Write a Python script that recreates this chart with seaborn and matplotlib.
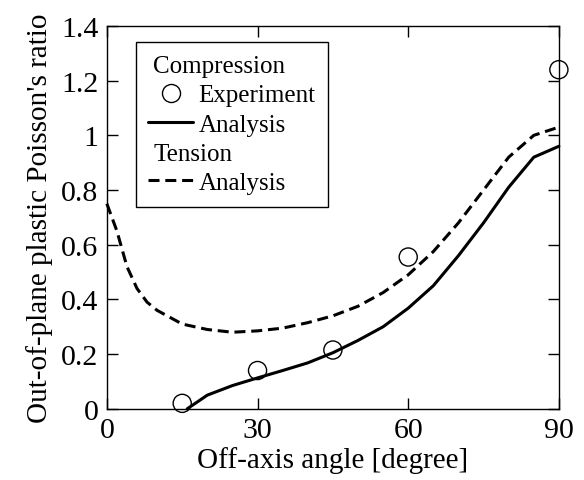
import matplotlib
matplotlib.use("Agg")
import matplotlib.pyplot as plt
from matplotlib.lines import Line2D
import seaborn as sns
import pandas as pd

# Experimental data (compression)
exp_angle = [15, 30, 45, 60, 90]
exp_ratio = [0.02, 0.14, 0.215, 0.555, 1.24]

# Analysis (compression)
comp_angle = [16, 20, 25, 30, 35, 40, 45, 50, 55, 60, 65, 70, 75, 80, 85, 90]
comp_ratio = [0.0, 0.05, 0.085, 0.113, 0.14, 0.168, 0.205, 0.25, 0.30, 0.368,
              0.45, 0.56, 0.68, 0.81, 0.92, 0.96]

# Analysis (tension)
ten_angle = [0, 2, 4, 6, 8, 10, 15, 20, 25, 30, 35, 40, 45, 50, 55, 60, 65, 70, 75, 80, 85, 90]
ten_ratio = [0.75, 0.65, 0.52, 0.44, 0.39, 0.36, 0.31, 0.29, 0.28, 0.285, 0.295, 0.315,
             0.34, 0.375, 0.425, 0.49, 0.575, 0.68, 0.80, 0.92, 1.0, 1.03]

x_ticks = [0, 30, 60, 90]
y_ticks = [0, 0.2, 0.4, 0.6, 0.8, 1.0, 1.2, 1.4]
y_tick_labels = ["0", "0.2", "0.4", "0.6", "0.8", "1", "1.2", "1.4"]

sns.set_style("ticks")
plt.rcParams['font.family'] = ['Liberation Serif', 'DejaVu Serif']
plt.rcParams['text.color'] = 'black'
plt.rcParams['axes.labelcolor'] = 'black'
plt.rcParams['xtick.color'] = 'black'
plt.rcParams['ytick.color'] = 'black'

DASH = (0, (3.6, 1.9))

fig = plt.figure(figsize=(5.84, 4.81), dpi=100)
ax = fig.add_axes([0.183, 0.148, 0.774, 0.796])

df_comp = pd.DataFrame({"angle": comp_angle, "ratio": comp_ratio})
df_ten = pd.DataFrame({"angle": ten_angle, "ratio": ten_ratio})
df_exp = pd.DataFrame({"angle": exp_angle, "ratio": exp_ratio})

sns.lineplot(data=df_ten, x="angle", y="ratio", ax=ax, color="black", linewidth=2.2,
             clip_on=False, zorder=3)
ax.lines[-1].set_linestyle(DASH)
sns.lineplot(data=df_comp, x="angle", y="ratio", ax=ax, color="black", linewidth=2.2,
             clip_on=False, zorder=3)
sns.scatterplot(data=df_exp, x="angle", y="ratio", ax=ax, marker="o", s=170,
                facecolor="none", edgecolor="black", linewidth=1.0, clip_on=False, zorder=4)

ax.set_xlim(0, 90)
ax.set_ylim(0, 1.4)
ax.set_xticks(x_ticks)
ax.set_xticklabels([str(t) for t in x_ticks])
ax.set_yticks(y_ticks)
ax.set_yticklabels(y_tick_labels)
ax.tick_params(direction="in", length=8, width=1, top=True, right=True,
               labelsize=21.5, pad=6, colors="black", labelcolor="black")
for s in ax.spines.values():
    s.set_linewidth(1.0)
    s.set_color("black")
    s.set_zorder(5)

ax.set_xlabel("Off-axis angle [degree]", fontsize=21, labelpad=2, color="black")
ax.set_ylabel("Out-of-plane plastic Poisson's ratio", fontsize=21, labelpad=6, color="black")

headers = ["Compression", "Tension"]
handles = [
    Line2D([], [], linestyle="none"),
    Line2D([], [], linestyle="none", marker="o", markersize=13, markerfacecolor="none",
           markeredgecolor="black", markeredgewidth=1.0),
    Line2D([], [], color="black", linewidth=2.2),
    Line2D([], [], linestyle="none"),
    Line2D([], [], color="black", linewidth=2.2, linestyle=DASH),
]
labels = ["Compression", "Experiment", "Analysis", "Tension", "Analysis"]
leg = ax.legend(handles, labels, loc="upper left", bbox_to_anchor=(0.064, 0.958),
                borderaxespad=0, fontsize=18, frameon=True, fancybox=False,
                edgecolor="black", framealpha=1, handlelength=1.8, handletextpad=0.2,
                labelspacing=0.27, borderpad=0.5, numpoints=1)
leg.get_frame().set_linewidth(1.0)
for t in leg.get_texts():
    t.set_color("black")
try:
    for col in leg._legend_handle_box.get_children():
        for row in col.get_children():
            da, ta = row.get_children()
            if ta.get_text() in headers:
                da.width = 0
except Exception:
    pass

fig.savefig("out.png", dpi=100)
